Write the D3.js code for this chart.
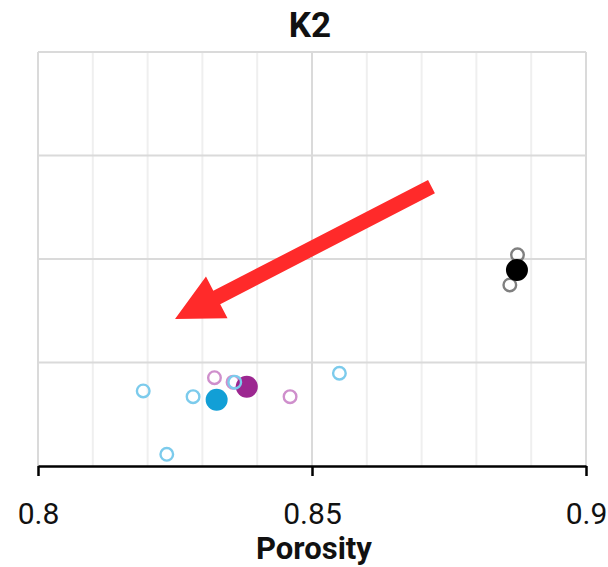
<!DOCTYPE html>
<html><head><meta charset="utf-8">
<script src="https://cdn.jsdelivr.net/npm/d3@7/dist/d3.min.js"></script>
<style>body{margin:0;background:#fff}svg{display:block}text{font-family:Roboto,"Liberation Sans",sans-serif}</style>
</head><body><svg id="c" width="608" height="567"></svg>
<script>
const title = "K2";
const xLabel = "Porosity";
const xTicks = [0.8, 0.85, 0.9];
const xTickLabels = ["0.8", "0.85", "0.9"];
const xMinorTicks = [0.81,0.82,0.83,0.84,0.86,0.87,0.88,0.89];
const yGrid = [0,1,2,3,4];

// Series (porosity, value)
const pinkOpenX = [0.8322, 0.8356, 0.8460];
const pinkOpenY = [0.853, 0.810, 0.670];
const purpleMeanX = [0.8381];
const purpleMeanY = [0.766];
const cyanOpenX = [0.8192, 0.8283, 0.8359, 0.8550, 0.8235];
const cyanOpenY = [0.725, 0.670, 0.810, 0.896, 0.113];
const cyanMeanX = [0.8326];
const cyanMeanY = [0.640];
const grayOpenX = [0.8875, 0.8861];
const grayOpenY = [2.040, 1.749];
const blackMeanX = [0.8874];
const blackMeanY = [1.894];

// arrow annotation (data coords): from tail to tip
const arrowFrom = [0.8718, 2.699];
const arrowTo = [0.8250, 1.420];

const svg = d3.select("#c");
const x = d3.scaleLinear().domain([0.8, 0.9]).range([38, 586]);
const y = d3.scaleLinear().domain([0, 4]).range([466, 52]);

const g = svg.append("g");
g.selectAll(".vmin").data(xMinorTicks).join("line")
  .attr("x1", d=>x(d)).attr("x2", d=>x(d)).attr("y1", y(4)).attr("y2", y(0))
  .attr("stroke", "#efefef").attr("stroke-width", 2);
g.selectAll(".vmaj").data(xTicks).join("line")
  .attr("x1", d=>x(d)).attr("x2", d=>x(d)).attr("y1", y(4)).attr("y2", y(0))
  .attr("stroke", "#dadada").attr("stroke-width", 2);
g.selectAll(".h").data(yGrid.slice(1)).join("line")
  .attr("x1", x(0.8)).attr("x2", x(0.9)).attr("y1", d=>y(d)).attr("y2", d=>y(d))
  .attr("stroke", "#dadada").attr("stroke-width", 2);

svg.append("text").attr("x", 310).attr("y", 37).attr("text-anchor", "middle")
  .attr("font-size", 35).attr("font-weight", 700).attr("fill", "#111").text(title);

(function(){
  const [x0,y0] = [x(arrowFrom[0]), y(arrowFrom[1])];
  const [x1,y1] = [x(arrowTo[0]), y(arrowTo[1])];
  const dx = x1-x0, dy = y1-y0, L = Math.hypot(dx,dy);
  const ux = dx/L, uy = dy/L, px = -uy, py = ux;
  const sw = 7.5, hw = 23.5, hl = 47;
  const bx = x1 - ux*hl, by = y1 - uy*hl;
  const pts = [
    [x0+px*sw, y0+py*sw], [bx+px*sw, by+py*sw], [bx+px*hw, by+py*hw], [x1,y1],
    [bx-px*hw, by-py*hw], [bx-px*sw, by-py*sw], [x0-px*sw, y0-py*sw]
  ];
  svg.append("path").attr("d", d3.line()(pts)+"Z").attr("fill", "#ff2a2a");
})();

function openPts(xs, ys, color){
  svg.append("g").selectAll("circle").data(xs.map((d,i)=>[d, ys[i]])).join("circle")
    .attr("cx", d=>x(d[0])).attr("cy", d=>y(d[1])).attr("r", 6.3)
    .attr("fill", "none").attr("stroke", color).attr("stroke-width", 2.4);
}
function filledPts(xs, ys, color){
  svg.append("g").selectAll("circle").data(xs.map((d,i)=>[d, ys[i]])).join("circle")
    .attr("cx", d=>x(d[0])).attr("cy", d=>y(d[1])).attr("r", 11)
    .attr("fill", color);
}
openPts(pinkOpenX, pinkOpenY, "#cf8fcc");
filledPts(purpleMeanX, purpleMeanY, "#9c2790");
openPts(cyanOpenX, cyanOpenY, "#7ccbec");
filledPts(cyanMeanX, cyanMeanY, "#129fd6");
openPts(grayOpenX, grayOpenY, "#808080");
filledPts(blackMeanX, blackMeanY, "#000");

const ax = svg.append("g").attr("transform", `translate(0,${y(0)})`)
  .call(d3.axisBottom(x).tickValues(xTicks).tickFormat((d,i)=>xTickLabels[i]).tickSize(10).tickSizeOuter(0).tickPadding(27));
ax.select(".domain").attr("stroke", "#000").attr("stroke-width", 2.5);
ax.selectAll(".tick line").attr("stroke", "#000").attr("stroke-width", 2.5);
ax.selectAll(".tick text").attr("font-size", 30).attr("fill", "#111")
  .attr("font-family", "Roboto, sans-serif");

svg.append("text").attr("x", 314).attr("y", 559).attr("text-anchor", "middle")
  .attr("font-size", 31).attr("font-weight", 700).attr("fill", "#111").text(xLabel);
</script></body></html>
